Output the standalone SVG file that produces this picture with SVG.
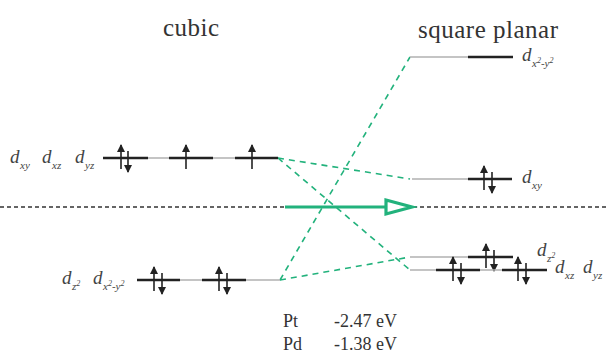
<svg xmlns="http://www.w3.org/2000/svg" width="607" height="353" viewBox="0 0 607 353">
<style>
.t{font-family:"Liberation Serif","DejaVu Serif",serif;fill:#333}
.d{font-family:"Liberation Serif","DejaVu Serif",serif;font-style:italic;font-size:19px;fill:#444}
.s{font-family:"Liberation Serif","DejaVu Serif",serif;font-style:italic;font-size:11px;fill:#444}
.sup{font-size:8px}
.bar{stroke:#222;stroke-width:2.6;fill:none}
.gl{stroke:#b0b0b0;stroke-width:1.4;fill:none}
.e{stroke:#222;stroke-width:1.6;fill:none;marker-end:url(#ah)}
.g{stroke:#22b27c;stroke-width:1.6;stroke-dasharray:6,5;fill:none}
</style>
<defs>
<marker id="ah" markerUnits="userSpaceOnUse" markerWidth="9" markerHeight="9" refX="7" refY="4" orient="auto">
<path d="M0,0 L8,4 L0,8 Z" fill="#222"/>
</marker>
</defs>
<rect width="607" height="353" fill="#fff"/>
<text class="t" x="163" y="36" font-size="25" textLength="56" lengthAdjust="spacing">cubic</text>
<text class="t" x="418" y="38" font-size="25" textLength="140" lengthAdjust="spacing">square planar</text>
<line x1="0" y1="207" x2="607" y2="207" stroke="#333" stroke-width="1.3" stroke-dasharray="4,3"/>
<g id="connectors">
<line class="g" x1="278" y1="158" x2="410" y2="179"/>
<line class="g" x1="278" y1="158" x2="410" y2="270"/>
<line class="g" x1="280" y1="280" x2="410" y2="57"/>
<line class="g" x1="280" y1="280" x2="410" y2="257"/>
</g>
<g id="shift-arrow">
<line x1="285" y1="207" x2="386" y2="207" stroke="#22b27c" stroke-width="3.2"/>
<path d="M386,200 L412,207 L386,214 Z" fill="#fff" stroke="#22b27c" stroke-width="3.2" stroke-linejoin="miter"/>
</g>
<g id="cubic-t2">
<line class="gl" x1="103" y1="158" x2="278" y2="158"/>
<line class="bar" x1="103" y1="158" x2="148" y2="158"/>
<line class="bar" x1="169" y1="158" x2="213" y2="158"/>
<line class="bar" x1="235" y1="158" x2="278" y2="158"/>
<line class="e" x1="121" y1="169" x2="121" y2="145"/>
<line class="e" x1="128" y1="151" x2="128" y2="172"/>
<line class="e" x1="186" y1="169" x2="186" y2="145"/>
<line class="e" x1="252" y1="169" x2="252" y2="145"/>
<text class="d" x="10" y="163">d</text><text class="s" x="20" y="169">xy</text>
<text class="d" x="42" y="163">d</text><text class="s" x="52" y="169">xz</text>
<text class="d" x="75" y="163">d</text><text class="s" x="85" y="169">yz</text>
</g>
<g id="cubic-e">
<line class="gl" x1="137" y1="280" x2="280" y2="280"/>
<line class="bar" x1="137" y1="280" x2="180" y2="280"/>
<line class="bar" x1="202" y1="280" x2="246" y2="280"/>
<line class="e" x1="154" y1="291" x2="154" y2="267"/>
<line class="e" x1="162" y1="273" x2="162" y2="294"/>
<line class="e" x1="219" y1="291" x2="219" y2="267"/>
<line class="e" x1="227" y1="273" x2="227" y2="294"/>
<text class="d" x="62" y="284">d</text><text class="s" x="72" y="290">z<tspan class="sup" dy="-4">2</tspan></text>
<text class="d" x="93" y="284">d</text><text class="s" x="103" y="290">x<tspan class="sup" dy="-4">2</tspan><tspan dy="4">-y</tspan><tspan class="sup" dy="-4">2</tspan></text>
</g>
<g id="sp-x2y2">
<line class="gl" x1="410" y1="57" x2="468" y2="57"/>
<line class="bar" x1="468" y1="57" x2="513" y2="57"/>
<text class="d" x="522" y="61">d</text><text class="s" x="532" y="67">x<tspan class="sup" dy="-4">2</tspan><tspan dy="4">-y</tspan><tspan class="sup" dy="-4">2</tspan></text>
</g>
<g id="sp-xy">
<line class="gl" x1="412" y1="179" x2="468" y2="179"/>
<line class="bar" x1="468" y1="179" x2="512" y2="179"/>
<line class="e" x1="484" y1="190" x2="484" y2="166"/>
<line class="e" x1="492" y1="172" x2="492" y2="193"/>
<text class="d" x="522" y="183">d</text><text class="s" x="532" y="189">xy</text>
</g>
<g id="sp-z2">
<line class="gl" x1="410" y1="257" x2="468" y2="257"/>
<line class="bar" x1="468" y1="257" x2="513" y2="257"/>
<line class="e" x1="486" y1="268" x2="486" y2="244"/>
<line class="e" x1="494" y1="250" x2="494" y2="271"/>
<text class="d" x="537" y="256">d</text><text class="s" x="547" y="262">z<tspan class="sup" dy="-4">2</tspan></text>
</g>
<g id="sp-xz-yz">
<line class="gl" x1="410" y1="270" x2="547" y2="270"/>
<line class="bar" x1="436" y1="270" x2="480" y2="270"/>
<line class="bar" x1="502" y1="270" x2="547" y2="270"/>
<line class="e" x1="453" y1="281" x2="453" y2="257"/>
<line class="e" x1="461" y1="263" x2="461" y2="284"/>
<line class="e" x1="518" y1="281" x2="518" y2="257"/>
<line class="e" x1="526" y1="263" x2="526" y2="284"/>
<text class="d" x="555" y="273">d</text><text class="s" x="565" y="279">xz</text>
<text class="d" x="583" y="273">d</text><text class="s" x="593" y="279">yz</text>
</g>
<g id="values">
<text class="t" x="283" y="327" font-size="18">Pt</text>
<text class="t" x="334" y="327" font-size="18">-2.47 eV</text>
<text class="t" x="283" y="350" font-size="18">Pd</text>
<text class="t" x="334" y="350" font-size="18">-1.38 eV</text>
</g>
</svg>
